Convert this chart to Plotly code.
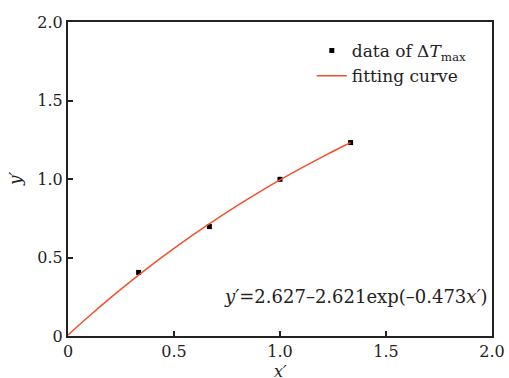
import plotly.graph_objects as go

# measured data points
data_x = [0.333, 0.667, 1.0, 1.333]
data_y = [0.405, 0.697, 0.998, 1.232]

# fitting curve samples
curve_x = [0.0, 0.1, 0.2, 0.3, 0.4, 0.5, 0.6, 0.7, 0.8, 0.9, 1.0, 1.1, 1.2, 1.3, 1.333]
curve_y = [0.006, 0.127, 0.243, 0.353, 0.458, 0.558, 0.654, 0.745, 0.832, 0.915, 0.994, 1.069, 1.141, 1.210, 1.232]

tick_vals = [0, 0.5, 1.0, 1.5, 2.0]
tick_text = ["0", "0.5", "1.0", "1.5", "2.0"]

FONT = "DejaVu Serif"
TXT = "#222"

fig = go.Figure()
fig.add_trace(go.Scatter(
    x=data_x, y=data_y, mode="markers",
    marker=dict(symbol="square", size=5, color="black"),
    name="data of Δ<i>T</i><sub>max</sub>",
))
fig.add_trace(go.Scatter(
    x=curve_x, y=curve_y, mode="lines",
    line=dict(color="#f2502e", width=1.5, shape="spline"),
    name="fitting curve",
))

axis_common = dict(
    showline=True, linecolor="#222", linewidth=2, mirror=True,
    ticks="inside", ticklen=5, tickwidth=1.5, tickcolor="#222",
    showgrid=False, zeroline=False, automargin=False,
    tickvals=tick_vals, ticktext=tick_text,
    tickfont=dict(family=FONT, size=16, color=TXT),
)

fig.update_layout(
    width=509, height=378,
    margin=dict(l=68, r=17, t=22, b=42),
    paper_bgcolor="white", plot_bgcolor="white",
    font=dict(family=FONT, size=16, color=TXT),
    xaxis=dict(range=[0, 2], **axis_common),
    yaxis=dict(range=[0, 2], **axis_common),
    legend=dict(x=0.575, y=0.965, xanchor="left", yanchor="top",
                bgcolor="rgba(0,0,0,0)", font=dict(family=FONT, size=17, color=TXT),
                tracegroupgap=0, itemwidth=30),
    showlegend=True,
    annotations=[
        dict(x=0.995, y=0.125, xref="paper", yref="paper", xanchor="right", yanchor="middle",
             text="<i>y′</i>=2.627–2.621exp(–0.473<i>x′</i>)", showarrow=False,
             font=dict(family=FONT, size=18, color=TXT)),
        dict(x=0.5, y=-0.076, xref="paper", yref="paper", xanchor="center", yanchor="top",
             text="<i>x′</i>", showarrow=False, font=dict(family=FONT, size=16, color=TXT)),
        dict(x=-0.125, y=0.5, xref="paper", yref="paper", xanchor="center", yanchor="middle",
             text="<i>y′</i>", showarrow=False, textangle=-90,
             font=dict(family=FONT, size=17, color=TXT)),
    ],
)

fig.write_html("out.html", config={"displayModeBar": False},
               post_script="document.body.style.margin='0';document.body.style.overflow='hidden';")
